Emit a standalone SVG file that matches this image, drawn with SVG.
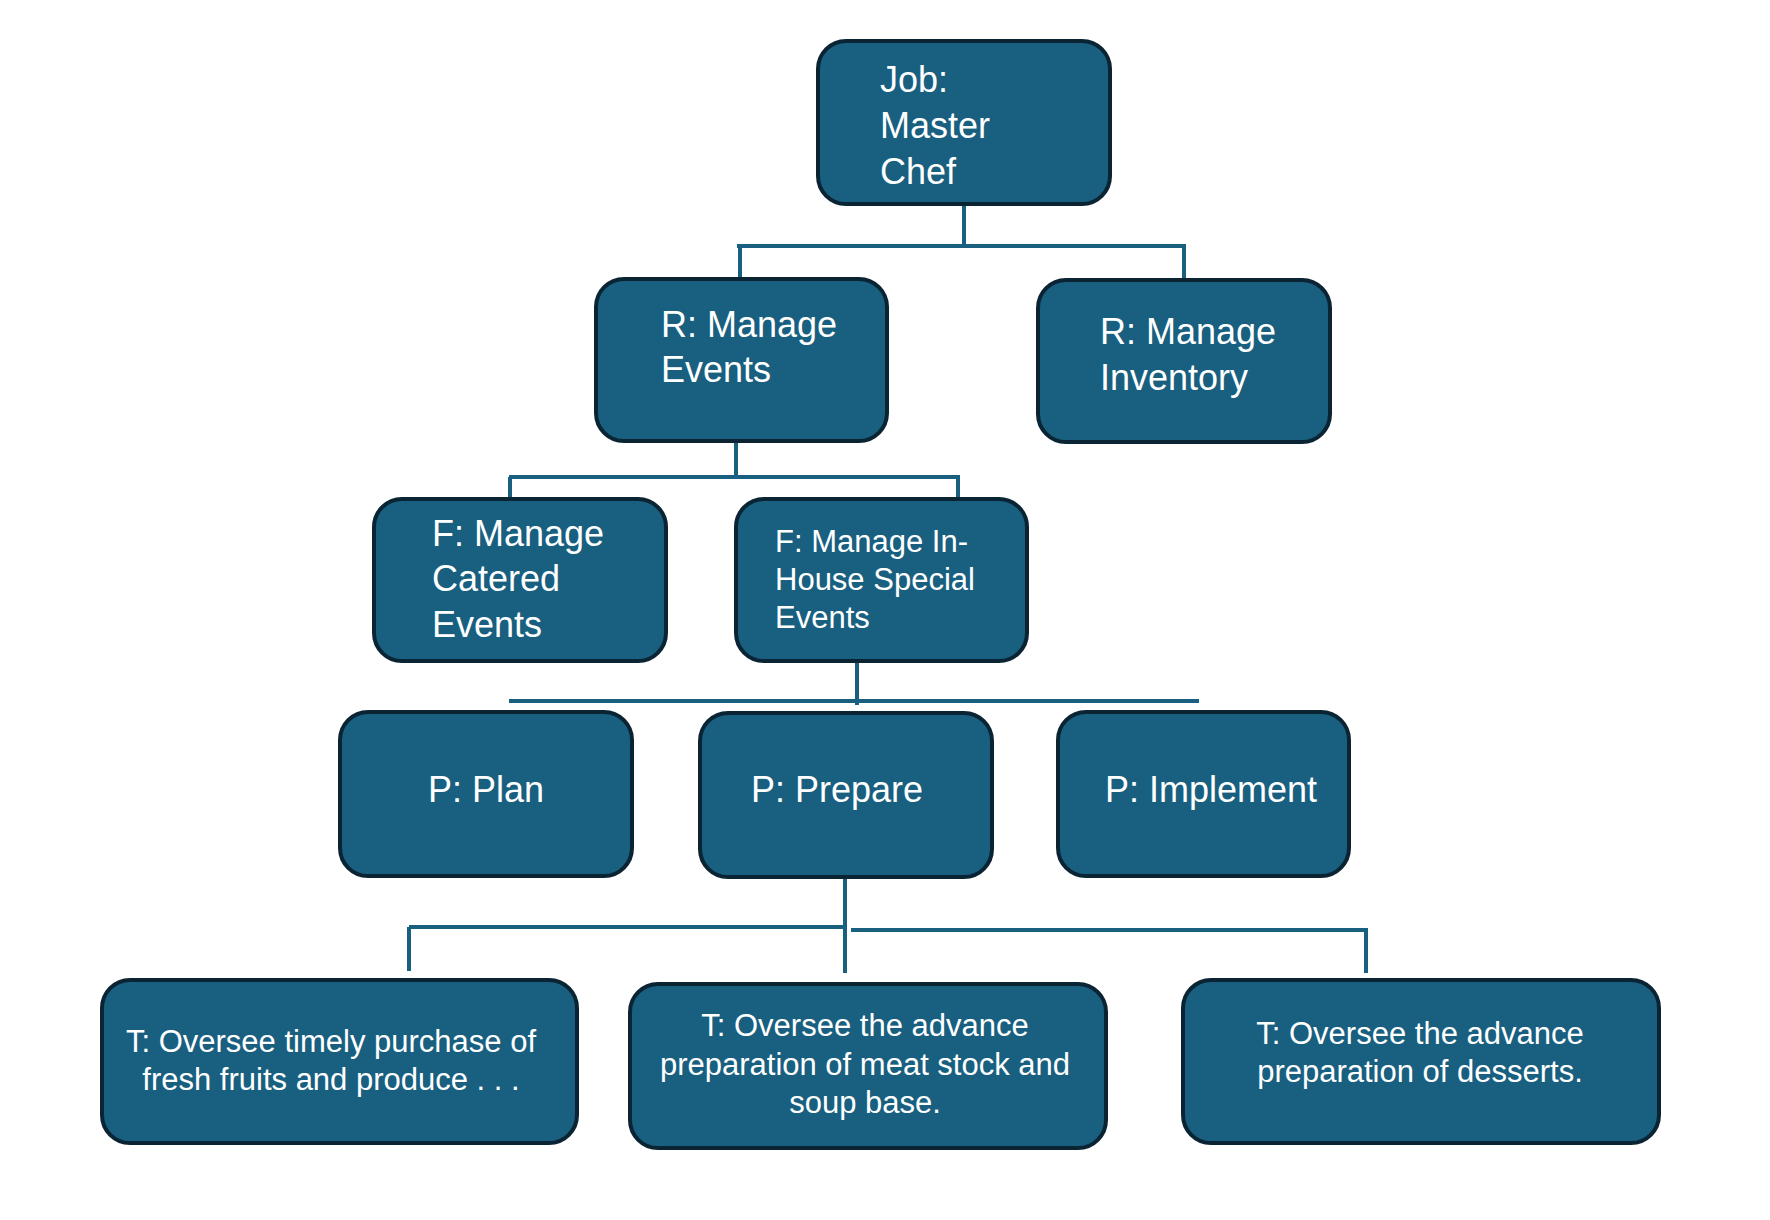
<svg xmlns="http://www.w3.org/2000/svg" width="1770" height="1220" viewBox="0 0 1770 1220">
<style>
.box{fill:#185F80;stroke:#0A2433;stroke-width:4}
.t{fill:#FFFFFF;font-family:"Liberation Sans",Arial,sans-serif;font-size:36px}
.s{font-size:31px}
.c{text-anchor:middle}
.ln{stroke:#185F80;stroke-width:4;fill:none}
</style>
<rect width="1770" height="1220" fill="#FFFFFF"/>
<g id="connectors">
<path class="ln" d="M964 204V246M737 246H1186M740 246V280M1184 246V281"/>
<path class="ln" d="M736 441V479M509 477H960M510 477V500M958 477V500"/>
<path class="ln" d="M857 661V705M509 701H1199"/>
<path class="ln" d="M845 877V973M409 927H845M409 927V971M851 930H1368M1366 930V973"/>
</g>
<g id="job"><rect class="box" x="818" y="41" width="292" height="163" rx="28"/>
<text class="t" x="880" y="92">Job:</text><text class="t" x="880" y="138">Master</text><text class="t" x="880" y="184">Chef</text></g>
<g id="r-events"><rect class="box" x="596" y="279" width="291" height="162" rx="28"/>
<text class="t" x="661" y="337">R: Manage</text><text class="t" x="661" y="382">Events</text></g>
<g id="r-inventory"><rect class="box" x="1038" y="280" width="292" height="162" rx="28"/>
<text class="t" x="1100" y="344">R: Manage</text><text class="t" x="1100" y="390">Inventory</text></g>
<g id="f-catered"><rect class="box" x="374" y="499" width="292" height="162" rx="28"/>
<text class="t" x="432" y="546">F: Manage</text><text class="t" x="432" y="591">Catered</text><text class="t" x="432" y="637">Events</text></g>
<g id="f-inhouse"><rect class="box" x="736" y="499" width="291" height="162" rx="28"/>
<text class="t s" x="775" y="552">F: Manage In-</text><text class="t s" x="775" y="590">House Special</text><text class="t s" x="775" y="628">Events</text></g>
<g id="p-plan"><rect class="box" x="340" y="712" width="292" height="164" rx="28"/>
<text class="t c" x="486" y="802">P: Plan</text></g>
<g id="p-prepare"><rect class="box" x="700" y="713" width="292" height="164" rx="28"/>
<text class="t c" x="837" y="802">P: Prepare</text></g>
<g id="p-implement"><rect class="box" x="1058" y="712" width="291" height="164" rx="28"/>
<text class="t c" x="1211" y="802">P: Implement</text></g>
<g id="t-purchase"><rect class="box" x="102" y="980" width="475" height="163" rx="28"/>
<text class="t s c" x="331" y="1052">T: Oversee timely purchase of</text><text class="t s c" x="331" y="1090">fresh fruits and produce . . .</text></g>
<g id="t-stock"><rect class="box" x="630" y="984" width="476" height="164" rx="28"/>
<text class="t s c" x="865" y="1036">T: Oversee the advance</text><text class="t s c" x="865" y="1075">preparation of meat stock and</text><text class="t s c" x="865" y="1113">soup base.</text></g>
<g id="t-desserts"><rect class="box" x="1183" y="980" width="476" height="163" rx="28"/>
<text class="t s c" x="1420" y="1044">T: Oversee the advance</text><text class="t s c" x="1420" y="1082">preparation of desserts.</text></g>
</svg>
